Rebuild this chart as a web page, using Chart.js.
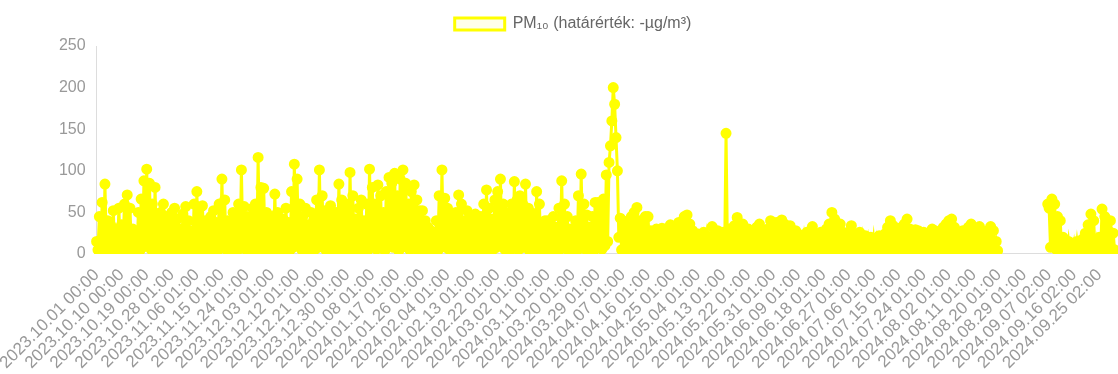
<!DOCTYPE html>
<html>
<head>
<meta charset="utf-8">
<script src="https://cdn.jsdelivr.net/npm/chart.js@4/dist/chart.umd.min.js"></script>
<style>
  html, body { margin: 0; padding: 0; background: #fff; overflow: hidden; }
  #wrap { width: 1132px; height: 374px; position: relative; }
</style>
</head>
<body>
<div id="wrap"><canvas id="chart"></canvas></div>
<script>
// tick labels shown on the x axis, one every 9 days (18 half-day points)
const tickLabels = [
  '2023.10.01 00:00', '2023.10.10 00:00', '2023.10.19 00:00', '2023.10.28 01:00',
  '2023.11.06 01:00', '2023.11.15 01:00', '2023.11.24 01:00', '2023.12.03 01:00',
  '2023.12.12 01:00', '2023.12.21 01:00', '2023.12.30 01:00', '2024.01.08 01:00',
  '2024.01.17 01:00', '2024.01.26 01:00', '2024.02.04 01:00', '2024.02.13 01:00',
  '2024.02.22 01:00', '2024.03.02 01:00', '2024.03.11 01:00', '2024.03.20 01:00',
  '2024.03.29 01:00', '2024.04.07 01:00', '2024.04.16 01:00', '2024.04.25 01:00',
  '2024.05.04 01:00', '2024.05.13 01:00', '2024.05.22 01:00', '2024.05.31 01:00',
  '2024.06.09 01:00', '2024.06.18 01:00', '2024.06.27 01:00', '2024.07.06 01:00',
  '2024.07.15 01:00', '2024.07.24 01:00', '2024.08.02 01:00', '2024.08.11 01:00',
  '2024.08.20 01:00', '2024.08.29 01:00', '2024.09.07 02:00', '2024.09.16 02:00',
  '2024.09.25 02:00'
];
const pointsPerTick = 18;

const yTicks = [0, 50, 100, 150, 200, 250];

const seriesLabel = 'PM\u2081\u2080 (határérték: -µg/m³)';

// PM10 readings, two per day (peak, trough) - one line per 9-day block
const pm10 = [
  15,5, 45,8, 62,4, 84,10, 40,5, 35,6, 52,3, 30,2, 55,6,
  35,8, 60,5, 71,10, 55,6, 30,2, 20,0, 50,4, 66,8, 88,10,
  102,12, 85,6, 60,3, 80,2, 40,4, 50,3, 60,8, 45,5, 38,4,
  50,6, 55,8, 42,3, 30,5, 48,6, 57,8, 40,3, 28,2, 60,2,
  75,10, 55,5, 58,8, 40,3, 35,6, 45,3, 52,6, 38,4, 60,8,
  90,12, 65,6, 40,3, 32,5, 50,3, 45,4, 60,8, 101,12, 57,6,
  45,5, 38,3, 55,6, 60,5, 116,12, 80,4, 79,10, 50,4, 42,6,
  45,2, 72,8, 50,4, 32,2, 42,6, 55,3, 38,5, 75,8, 108,12,
  90,10, 60,6, 45,4, 55,8, 35,4, 50,3, 42,6, 65,8, 101,12,
  70,8, 52,4, 45,2, 58,8, 40,5, 50,3, 84,10, 65,6, 55,8,
  60,5, 98,12, 70,8, 42,2, 55,4, 65,8, 40,3, 60,5, 102,12,
  80,10, 60,6, 83,12, 70,8, 50,4, 75,10, 92,12, 85,8, 97,12,
  70,4, 90,10, 101,12, 85,8, 60,5, 75,10, 83,10, 65,4, 52,6,
  52,5, 40,2, 32,3, 28,1, 25,2, 40,4, 70,8, 101,12, 67,8,
  55,6, 45,4, 35,1, 50,3, 71,10, 60,6, 40,2, 52,5, 45,4,
  42,4, 48,5, 38,2, 45,4, 60,8, 77,10, 55,3, 42,6, 65,8,
  75,10, 90,12, 60,6, 50,5, 45,4, 60,8, 87,10, 65,5, 70,8,
  60,8, 84,10, 55,4, 50,5, 40,3, 75,10, 60,4, 32,2, 40,4,
  40,6, 36,3, 45,5, 32,2, 55,6, 88,10, 60,8, 45,4, 30,2,
  28,2, 40,4, 70,8, 96,12, 60,6, 47,2, 32,0, 45,4, 62,8,
  62,8, 55,6, 66,10, 95,15, 110,130, 160,200, 180,140, 100,20, 43,5,
  40,5, 35,3, 32,6, 45,4, 50,8, 56,6, 40,3, 35,5, 45,4,
  45,6, 28,3, 22,4, 30,5, 24,2, 31,4, 20,3, 26,5, 35,4,
  26,4, 30,5, 38,6, 32,4, 45,2, 47,1, 36,6, 28,4, 24,5,
  24,4, 18,3, 26,5, 20,2, 18,4, 33,5, 24,3, 28,4, 22,3,
  26,4, 145,8, 30,4, 26,5, 34,6, 44,5, 30,4, 36,6, 26,3,
  30,5, 24,4, 20,3, 32,5, 36,6, 26,4, 22,3, 30,5, 40,6,
  30,4, 38,5, 32,6, 41,5, 36,4, 28,3, 34,5, 24,4, 28,3,
  24,3, 20,2, 18,2, 26,4, 22,3, 33,4, 24,2, 20,3, 26,4,
  26,3, 30,4, 36,5, 50,8, 42,6, 26,4, 36,6, 26,3, 22,4,
  26,4, 34,6, 24,3, 20,2, 26,4, 18,2, 22,3, 16,2, 20,2,
  18,2, 15,1, 22,2, 16,0, 24,3, 32,4, 40,5, 34,4, 26,3,
  26,1, 32,3, 36,4, 42,6, 30,4, 26,3, 29,4, 28,3, 22,2,
  26,3, 20,2, 24,4, 30,3, 28,4, 22,2, 26,3, 32,4, 36,5,
  40,5, 42,6, 32,4, 26,3, 22,2, 28,4, 26,3, 32,4, 36,5,
  30,4, 26,3, 33,5, 26,4, 22,3, 28,5, 33,4, 28,5, 15,4,
  null,null, null,null, null,null, null,null, null,null, null,null, null,null, null,null, null,null,
  null,null, null,null, null,null, null,null, null,null, null,null, null,null, null,null, null,60,
  55,8, 66,10, 60,6, 45,5, 40,4, 20,2, 12,0, 15,1, 10,0,
  12,1, 15,2, 10,0, 18,2, 25,4, 35,5, 48,8, 40,4, 15,2,
  20,3, 54,8, 45,5, 30,4, 40,6, 25,5
];

const labels = pm10.map((v, i) => i % pointsPerTick === 0 ? tickLabels[i / pointsPerTick] : '');

const yellow = 'rgb(255, 255, 0)';

// nudge the legend: a bit right of centre and a bit higher than its reserved space
const legendShift = {
  id: 'legendShift',
  afterLayout(chart) {
    const lg = chart.legend;
    lg.left += 7;
    lg.right += 7;
    lg.top -= 4;
    lg.bottom -= 4;
  }
};

new Chart(document.getElementById('chart'), {
  type: 'line',
  data: {
    labels: labels,
    datasets: [{
      label: seriesLabel,
      data: pm10,
      borderColor: yellow,
      backgroundColor: 'rgba(255, 255, 0, 0.08)',
      pointBackgroundColor: yellow,
      pointBorderColor: yellow,
      borderWidth: 3,
      pointRadius: 4,
      tension: 0,
      fill: false,
      spanGaps: false
    }]
  },
  plugins: [legendShift],
  options: {
    responsive: true,
    maintainAspectRatio: false,
    animation: false,
    layout: { padding: { top: 6, bottom: -2 } },
    plugins: {
      legend: {
        labels: {
          boxWidth: 50,
          boxHeight: 12,
          padding: 14,
          color: '#666',
          font: { size: 16 }
        }
      },
      tooltip: { enabled: false }
    },
    scales: {
      x: {
        grid: { display: false },
        border: { color: '#ddd' },
        ticks: {
          autoSkip: false,
          maxRotation: 45,
          minRotation: 45,
          color: '#999',
          font: { size: 17 }
        }
      },
      y: {
        min: 0,
        max: 250,
        grid: { display: false },
        border: { color: '#ddd' },
        afterBuildTicks: axis => { axis.ticks = yTicks.map(v => ({ value: v })); },
        ticks: {
          color: '#999',
          font: { size: 16 }
        }
      }
    }
  }
});
</script>
</body>
</html>
